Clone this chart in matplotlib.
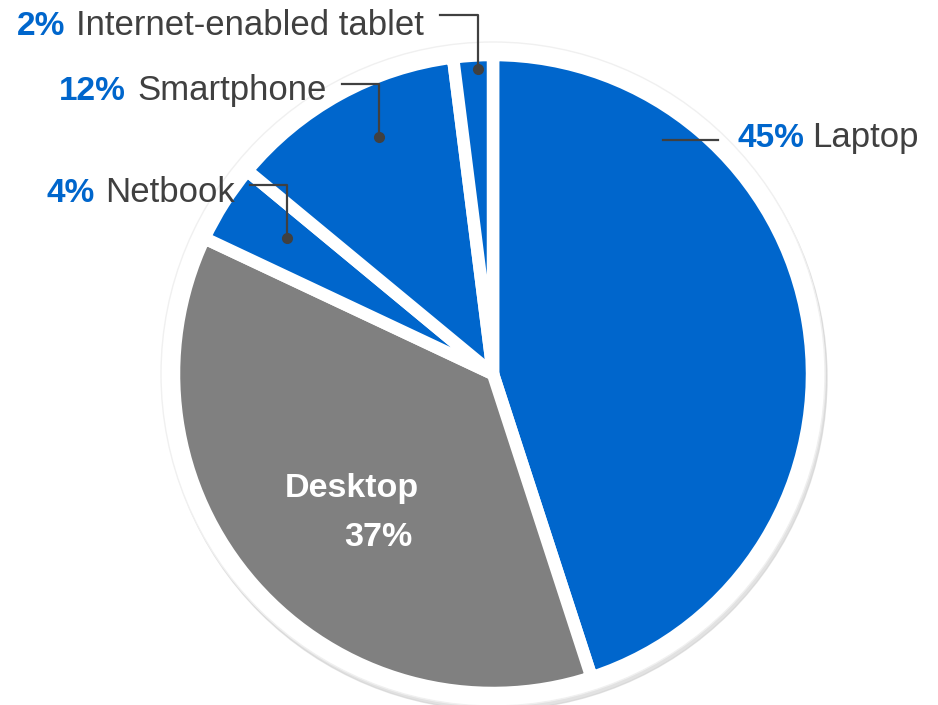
import matplotlib.pyplot as plt
from matplotlib.patches import Circle

plt.rcParams['font.family'] = ['Liberation Sans', 'DejaVu Sans']

# Data
devices = ['Laptop', 'Desktop', 'Netbook', 'Smartphone', 'Internet-enabled tablet']
shares = [45, 37, 4, 12, 2]
colors = ['#0066CC', '#808080', '#0066CC', '#0066CC', '#0066CC']

BLUE = '#0066CC'
DARK = '#404040'
H = 705  # image height, to flip y

fig = plt.figure(figsize=(9.38, 7.05), dpi=100)
ax = fig.add_axes([0, 0, 1, 1])
ax.set_xlim(0, 938)
ax.set_ylim(0, H)
ax.set_aspect('equal')
ax.axis('off')

cx, cy, r = 493, H - 374, 319

# backing disc with soft shadow
ax.add_patch(Circle((cx + 2, cy - 4), r + 13, color='#cfcfcf', alpha=0.6, zorder=0))
ax.add_patch(Circle((cx, cy), r + 13, facecolor='white', edgecolor='#f0f0f0', lw=1, zorder=1))

wedges, _ = ax.pie(shares, colors=colors, startangle=90, counterclock=False,
                   center=(cx, cy), radius=r, frame=True,
                   wedgeprops=dict(edgecolor='white', linewidth=9,
                                   joinstyle='round'))
for w in wedges:
    w.set_zorder(2)
ax.set_xlim(0, 938)
ax.set_ylim(0, H)
ax.axis('off')

# outside labels: (name, pct, pct_x, name_x, baseline_y) in image pixels
labels = [
    ('Internet-enabled tablet', '2%', 17, 76, 35),
    ('Smartphone', '12%', 59, 137, 100),
    ('Netbook', '4%', 46, 105, 202),
    ('Laptop', '45%', 737, 812, 147),
]
for name, pct, px, nx, by in labels:
    ax.text(px, H - by, pct, color=BLUE, fontsize=24, fontweight='bold',
            va='baseline', ha='left', zorder=5)
    ax.text(nx, H - by, name, color=DARK, fontsize=25,
            va='baseline', ha='left', zorder=5)

# leader lines: horizontal start, corner x, line y, dot y
leaders = [
    (440, 478, 15, 69),
    (342, 379, 84, 137),
    (250, 287, 185, 238),
]
for x0, x1, ly, dy in leaders:
    ax.plot([x0, x1, x1], [H - ly, H - ly, H - dy], color=DARK, lw=1.6, zorder=4)
    ax.plot([x1], [H - dy], 'o', color=DARK, markersize=7, zorder=4)
ax.plot([663, 718], [H - 140, H - 140], color=DARK, lw=1.6, zorder=4)

# desktop label inside
ax.text(285, H - 497, 'Desktop', color='white', fontsize=24.5, fontweight='bold',
        va='baseline', ha='left', zorder=5)
ax.text(344, H - 546, '37%', color='white', fontsize=24.5, fontweight='bold',
        va='baseline', ha='left', zorder=5)

fig.savefig('out.png', dpi=100)
